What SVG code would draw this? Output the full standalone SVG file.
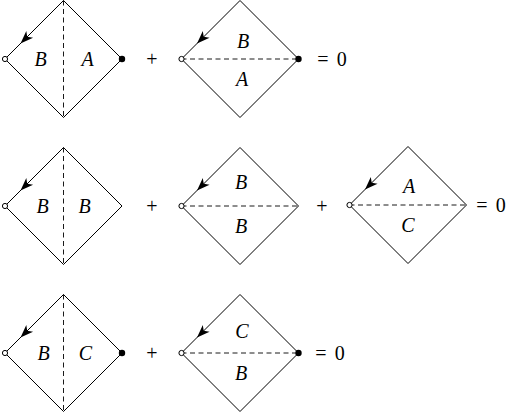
<svg xmlns="http://www.w3.org/2000/svg" xmlns:xlink="http://www.w3.org/1999/xlink" width="507" height="413" viewBox="0 0 507 413">
<style>
.dia{fill:none;stroke:#000;stroke-width:1}
.dash{fill:none;stroke:#000;stroke-width:0.9;stroke-dasharray:5 3.5}
text{font-family:'Liberation Serif','Times New Roman',serif;text-anchor:middle}
.lbl{font-style:italic;font-size:20px}
.op{font-size:20px;word-spacing:3px}
.open{fill:#fff;stroke:#000;stroke-width:1}
.full{fill:#000}
</style>
<defs>
<path id="dm" class="dia" d="M0,-58.5 L58.5,0 L0,58.5 L-58.5,0 Z"/>
<path id="ah" d="M0,0 L-13,-4.8 L-9.5,0 L-13,4.8 Z" fill="#000"/>
</defs>
<g id="row1-term1" transform="translate(63.5,59)">
<use xlink:href="#dm"/>
<line class="dash" x1="0" y1="-58.5" x2="0" y2="58.5"/>
<use xlink:href="#ah" transform="translate(-43,-15.5) rotate(135)"/>
<circle class="open" cx="-58.5" cy="0" r="2.6"/>
<circle class="full" cx="58.5" cy="0" r="3.2"/>
<text class="lbl" x="-23" y="7">B</text>
<text class="lbl" x="24" y="7">A</text>
</g>
<text class="op" x="152" y="66">+</text>
<g id="row1-term2" transform="translate(240,59)">
<use xlink:href="#dm"/>
<line class="dash" x1="-58.5" y1="0" x2="58.5" y2="0"/>
<use xlink:href="#ah" transform="translate(-43,-15.5) rotate(135)"/>
<circle class="open" cx="-58.5" cy="0" r="2.6"/>
<circle class="full" cx="58.5" cy="0" r="3.2"/>
<text class="lbl" x="3" y="-11">B</text>
<text class="lbl" x="2" y="27">A</text>
</g>
<text class="op" x="332" y="66">= 0</text>

<g id="row2-term1" transform="translate(63.5,206)">
<use xlink:href="#dm"/>
<line class="dash" x1="0" y1="-58.5" x2="0" y2="58.5"/>
<use xlink:href="#ah" transform="translate(-43,-15.5) rotate(135)"/>
<circle class="open" cx="-58.5" cy="0" r="2.6"/>
<text class="lbl" x="-21" y="7">B</text>
<text class="lbl" x="21" y="7">B</text>
</g>
<text class="op" x="152" y="213">+</text>
<g id="row2-term2" transform="translate(240,206)">
<use xlink:href="#dm"/>
<line class="dash" x1="-58.5" y1="0" x2="58.5" y2="0"/>
<use xlink:href="#ah" transform="translate(-43,-15.5) rotate(135)"/>
<circle class="open" cx="-58.5" cy="0" r="2.6"/>
<text class="lbl" x="1" y="-17">B</text>
<text class="lbl" x="1" y="27">B</text>
</g>
<text class="op" x="322" y="213">+</text>
<g id="row2-term3" transform="translate(408,205)">
<use xlink:href="#dm"/>
<line class="dash" x1="-58.5" y1="0" x2="58.5" y2="0"/>
<use xlink:href="#ah" transform="translate(-43,-15.5) rotate(135)"/>
<circle class="open" cx="-58.5" cy="0" r="2.6"/>
<text class="lbl" x="1" y="-12">A</text>
<text class="lbl" x="0" y="27">C</text>
</g>
<text class="op" x="491" y="212">= 0</text>

<g id="row3-term1" transform="translate(63.5,353)">
<use xlink:href="#dm"/>
<line class="dash" x1="0" y1="-58.5" x2="0" y2="58.5"/>
<use xlink:href="#ah" transform="translate(-43,-15.5) rotate(135)"/>
<circle class="open" cx="-58.5" cy="0" r="2.6"/>
<circle class="full" cx="58.5" cy="0" r="3.2"/>
<text class="lbl" x="-20" y="7">B</text>
<text class="lbl" x="22" y="7">C</text>
</g>
<text class="op" x="152" y="360">+</text>
<g id="row3-term2" transform="translate(240,353)">
<use xlink:href="#dm"/>
<line class="dash" x1="-58.5" y1="0" x2="58.5" y2="0"/>
<use xlink:href="#ah" transform="translate(-43,-15.5) rotate(135)"/>
<circle class="open" cx="-58.5" cy="0" r="2.6"/>
<circle class="full" cx="58.5" cy="0" r="3.2"/>
<text class="lbl" x="2" y="-15">C</text>
<text class="lbl" x="1" y="27">B</text>
</g>
<text class="op" x="330" y="360">= 0</text>
</svg>
